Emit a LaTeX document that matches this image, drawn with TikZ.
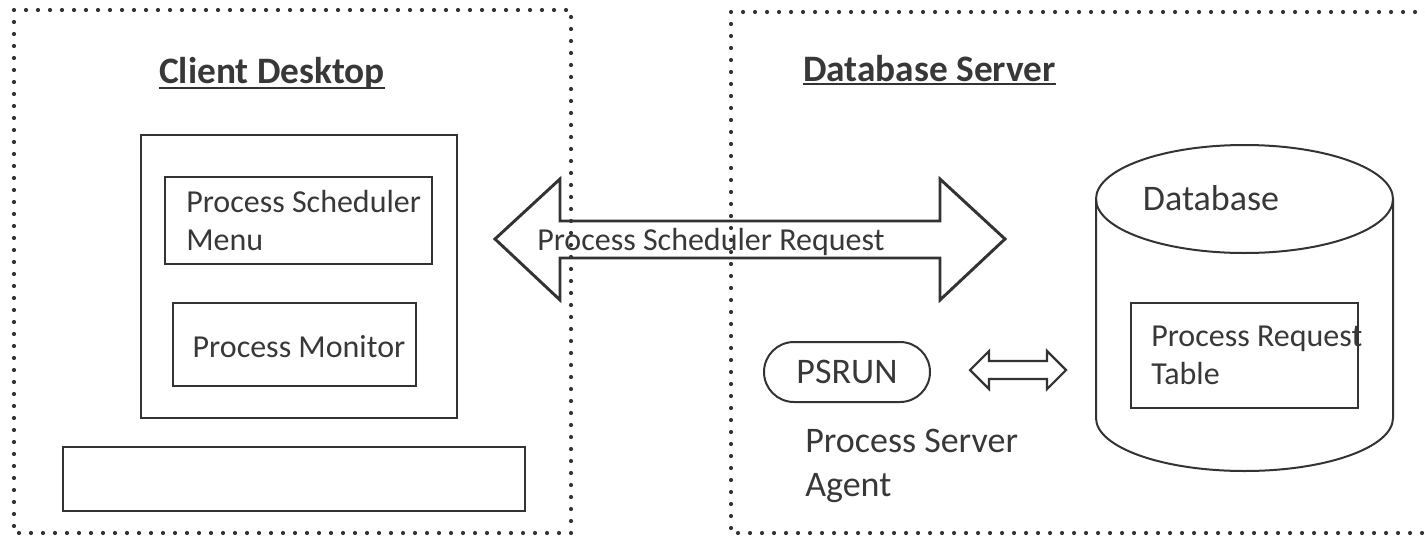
\documentclass[tikz,border=0pt]{standalone}
\usepackage{fontspec}
\setmainfont{Carlito}
\usetikzlibrary{positioning}
\definecolor{ink}{HTML}{333333}
\definecolor{txt}{HTML}{383838}
\tikzset{
  zone/.style={draw=ink,line width=3.1pt,line cap=round,dash pattern=on 0pt off 9pt},
  box/.style={draw=ink,line width=1.5pt,rectangle,inner sep=0pt},
  lbl/.style={text=txt,font=\fontsize{24}{28}\selectfont,align=left,inner sep=0pt},
  biglbl/.style={text=txt,font=\fontsize{27}{32.5}\selectfont,align=left,inner sep=0pt},
  title/.style={text=txt,font=\fontsize{28}{32}\selectfont\bfseries,inner sep=0pt},
  fatarrow/.style={draw=ink,line width=2.2pt,line join=miter},
  thinarrow/.style={draw=ink,line width=1.6pt,line join=miter},
}

\begin{document}
\begin{tikzpicture}[x=0.75pt,y=-0.75pt]
% \draw[help lines] (0,0) grid (1425,546);
\useasboundingbox (0,0) rectangle (1425,546);
\clip (0,0) rectangle (1425,546);
% the two areas
\draw[zone] (14,10) rectangle (571,533);
\draw[zone] (731,12) rectangle (1440,533);
\node (clienttitle) [title,anchor=base] at (272,83) {Client Desktop};
\node (dbtitle) [title,anchor=base west] at (803,81) {Database Server};
\draw[ink,line width=1.5pt] ([yshift=-3.5pt]clienttitle.base west) -- ([yshift=-3.5pt]clienttitle.base east);
\draw[ink,line width=1.5pt] ([yshift=-2.5pt]dbtitle.base west) -- ([yshift=-2.5pt]dbtitle.base east);
%
% client desktop
\node (screen) [box,minimum width=316*0.75pt,minimum height=283*0.75pt] at (299,276.5) {};
\node (menu) [box,minimum width=267*0.75pt,minimum height=87*0.75pt] at (298.5,220.5) {};
\node (menutext) [lbl,anchor=west] at ([xshift=22*0.75pt]menu.west) {Process Scheduler\\Menu};
\node (monitor) [box,minimum width=243*0.75pt,minimum height=83*0.75pt] at (294.5,344.5) {};
\node (monitortext) [lbl] at (299,347) {Process Monitor};
\node (keyboard) [box,minimum width=462*0.75pt,minimum height=64*0.75pt] at (294,479) {};
%
% request arrow
\coordinate (reqL) at (495,239);
\coordinate (reqR) at (1005,239);
\draw[fatarrow] (reqL) -- (560,179) -- (560,221) -- (940,221) -- (940,179) -- (reqR)
  -- (940,300) -- (940,258) -- (560,258) -- (560,300) -- cycle;
\node (reqtext) [lbl,anchor=base west] at (537,250) {Process Scheduler Request};
%
% database server
\node (psrun) [box,rounded corners=30*0.75pt,minimum width=166*0.75pt,minimum height=60*0.75pt,biglbl] at (847,372) {PSRUN};
\node (agent) [biglbl,anchor=west] at (805,466) {Process Server\\Agent};
\coordinate (linkL) at (970,370);
\coordinate (linkR) at (1066,370);
\draw[thinarrow] (linkL) -- (989,351) -- (989,361) -- (1047,361) -- (1047,351) -- (linkR)
  -- (1047,389) -- (1047,379) -- (989,379) -- (989,389) -- cycle;
%
% database cylinder
\draw[ink,line width=1.5pt] (1244.5,199) ellipse [x radius=148.5*0.75pt,y radius=54*0.75pt];
\draw[ink,line width=1.5pt] (1096,199) -- (1096,418)
  arc [start angle=180,end angle=360,x radius=148.5*0.75pt,y radius=53*0.75pt] -- (1393,199);
\node (dbtext) [biglbl,anchor=base] at (1211,210) {Database};
\node (reqtable) [box,minimum width=227*0.75pt,minimum height=105*0.75pt] at (1244.5,355.5) {};
\node (reqtabletext) [lbl,anchor=west] at ([xshift=21*0.75pt]reqtable.west) {Process Request\\Table};
\end{tikzpicture}
\end{document}
